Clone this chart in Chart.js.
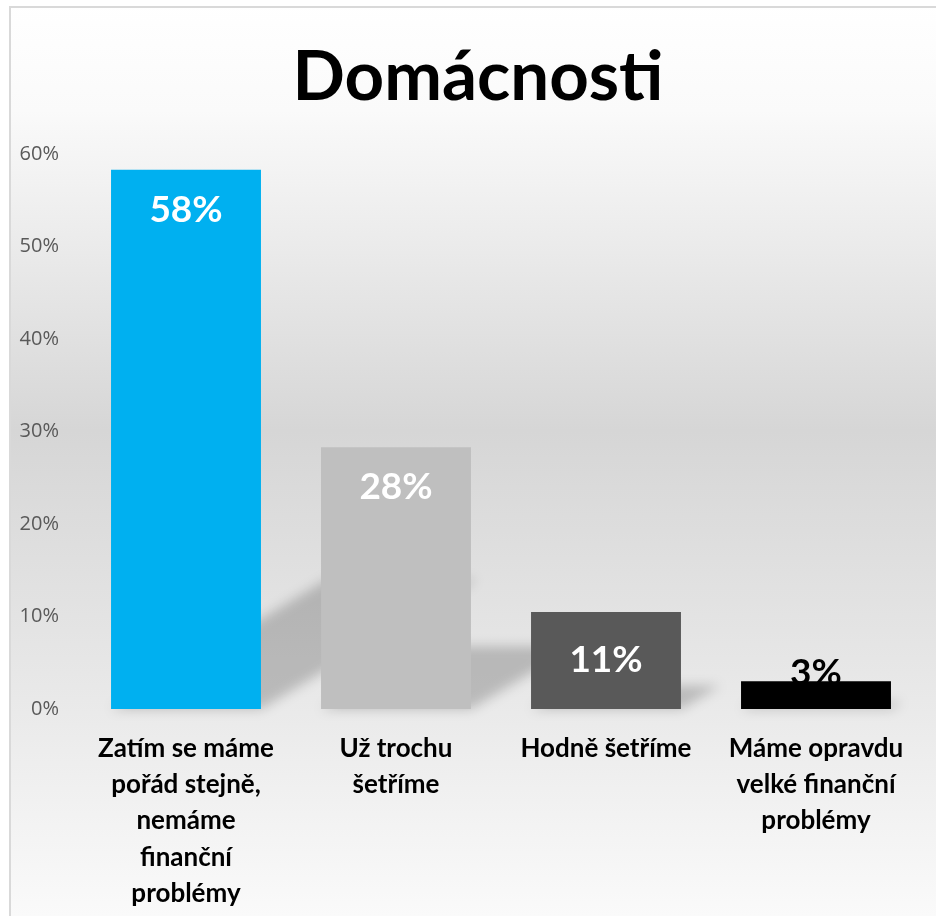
<!DOCTYPE html>
<html>
<head>
<meta charset="utf-8">
<script src="https://cdn.jsdelivr.net/npm/chart.js@4"></script>
<style>
  html, body { margin: 0; padding: 0; background: #fff; }
  #wrap { width: 936px; height: 916px; }
</style>
</head>
<body>
<div id="wrap"><canvas id="barCanvas"></canvas></div>
<script>
const chartTitle = "Domácnosti";
const categories = [
    ["Zatím se máme", "pořád stejně,", "nemáme", "finanční", "problémy"],
    ["Už trochu", "šetříme"],
    ["Hodně šetříme"],
    ["Máme opravdu", "velké finanční", "problémy"]
];
const values = [58.3, 28.3, 10.5, 3.0];
const valueLabels = ["58%", "28%", "11%", "3%"];
const yTicks = [0, 10, 20, 30, 40, 50, 60];

const barColors = ["#00b0f0", "#bfbfbf", "#595959", "#000000"];
const labelColors = ["#ffffff", "#ffffff", "#ffffff", "#000000"];

// gradient background + frame + title
const bgPlugin = {
    id: "bg",
    beforeDraw(chart) {
        const ctx = chart.ctx;
        const h = chart.height, w = chart.width;
        const g = ctx.createLinearGradient(0, 0, 0, h);
        g.addColorStop(0, "#ffffff");
        g.addColorStop(0.12, "#fafafa");
        g.addColorStop(0.47, "#d6d6d6");
        g.addColorStop(0.75, "#e8e8e8");
        g.addColorStop(1, "#fafafa");
        ctx.save();
        ctx.fillStyle = "#ffffff";
        ctx.fillRect(0, 0, w, h);
        ctx.fillStyle = g;
        ctx.fillRect(10, 7, w - 10, h - 7);
        ctx.strokeStyle = "#d9d9d9";
        ctx.lineWidth = 2;
        ctx.beginPath();
        ctx.moveTo(10, h);
        ctx.lineTo(10, 7);
        ctx.lineTo(w, 7);
        ctx.stroke();

        // title, centred a bit right of the canvas like the original
        ctx.fillStyle = "#000000";
        ctx.font = "bold 69px Lato";
        ctx.textAlign = "center";
        ctx.textBaseline = "middle";
        ctx.fillText(chartTitle, 478, 78);
        ctx.restore();
    }
};

// soft perspective shadow behind each bar
const shadowPlugin = {
    id: "barShadow",
    beforeDatasetsDraw(chart) {
        const ctx = chart.ctx;
        const meta = chart.getDatasetMeta(0);
        ctx.save();
        ctx.filter = "blur(6px)";
        ctx.fillStyle = "rgba(0,0,0,0.2)";
        meta.data.forEach(bar => {
            const half = bar.width / 2;
            const hgt = bar.base - bar.y;
            const dx = hgt * 0.4, dy = hgt * 0.24;
            ctx.beginPath();
            ctx.moveTo(bar.x - half, bar.base);
            ctx.lineTo(bar.x + half, bar.base);
            ctx.lineTo(bar.x + half + dx, bar.base - dy);
            ctx.lineTo(bar.x - half + dx, bar.base - dy);
            ctx.closePath();
            ctx.fill();
        });
        ctx.restore();
        // small bars: label sits behind the bar
        drawLabels(chart, true);
    },
    afterDatasetsDraw(chart) {
        drawLabels(chart, false);
    }
};

function drawLabels(chart, small) {
    const ctx = chart.ctx;
    const meta = chart.getDatasetMeta(0);
    ctx.save();
    ctx.font = "bold 37px Lato";
    ctx.textAlign = "center";
    ctx.textBaseline = "middle";
    meta.data.forEach((bar, i) => {
        const hgt = bar.base - bar.y;
        const isSmall = hgt < 60;
        if (isSmall !== small) return;
        ctx.fillStyle = labelColors[i];
        let y;
        if (isSmall) y = bar.y - 8;
        else if (hgt < 100) y = bar.y + hgt / 2;
        else y = bar.y + 40;
        ctx.fillText(valueLabels[i], bar.x, y);
    });
    ctx.restore();
}

const barCanvas = document.getElementById("barCanvas");
const barChart = new Chart(barCanvas, {
    type: "bar",
    data: {
        labels: categories,
        datasets: [{
            data: values,
            backgroundColor: barColors,
            categoryPercentage: 1,
            barPercentage: 0.714
        }]
    },
    options: {
        responsive: true,
        maintainAspectRatio: false,
        animation: false,
        layout: { padding: { left: 0, right: 15, top: 154, bottom: 0 } },
        plugins: {
            legend: { display: false },
            tooltip: { enabled: false },
            title: { display: false }
        },
        scales: {
            y: {
                min: 0,
                max: 60,
                afterBuildTicks: s => { s.ticks = yTicks.map(v => ({ value: v })); },
                afterFit: s => { s.width = 81; },
                grid: { display: false },
                border: { display: false },
                ticks: {
                    color: "#595959",
                    padding: 14,
                    font: { family: "Open Sans", size: 20 },
                    callback: v => v + "%"
                }
            },
            x: {
                afterFit: s => { s.height = 207; },
                grid: { display: false },
                border: { display: false },
                ticks: {
                    color: "#000000",
                    padding: 13,
                    maxRotation: 0,
                    autoSkip: false,
                    font: { family: "Lato", size: 26, weight: "bold", lineHeight: 1.4 }
                }
            }
        }
    },
    plugins: [bgPlugin, shadowPlugin]
});
</script>
</body>
</html>
